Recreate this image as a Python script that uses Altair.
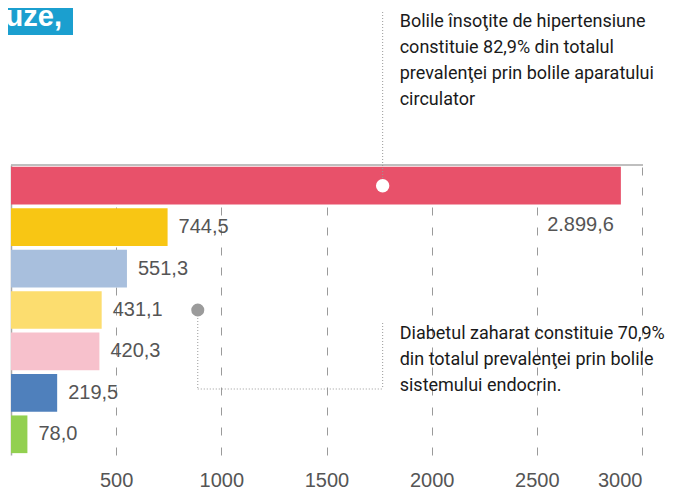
import altair as alt
import pandas as pd

# ---- data ----
categories = ["c1", "c2", "c3", "c4", "c5", "c6", "c7"]
values = [2899.6, 744.5, 551.3, 431.1, 420.3, 219.5, 78.0]
colors = ["#E8516A", "#F8C614", "#A8BFDD", "#FCDD6F", "#F7C1CC", "#4F80BC", "#92D050"]
tick_values = [500, 1000, 1500, 2000, 2500, 3000]

note1_lines = ["Bolile însoţite de  hipertensiune", "constituie 82,9% din totalul",
               "prevalenţei prin bolile aparatului", "circulator"]
note2_lines = ["Diabetul zaharat constituie 70,9%", "din totalul prevalenţei prin bolile",
               "sistemului endocrin."]
title_text = "uze,"

# annotation anchor values (data units)
marker1_x = 1767
marker2_x = 888
note_x = 1848


def ro_fmt(v):
    s = f"{v:,.1f}"
    return s.replace(",", "X").replace(".", ",").replace("X", ".")


labels = [ro_fmt(v) for v in values]

df = pd.DataFrame({"cat": categories, "value": values, "color": colors, "label": labels})

W, H = 631, 290
FONT = "Liberation Sans"
NOTE_FONT = "Roboto"

xscale = alt.Scale(domain=[0, 3000], nice=False, zero=True)
yscale = alt.Scale(domain=categories, paddingInner=0.09, paddingOuter=0.045)

base = alt.Chart(df)

bars = base.mark_bar().encode(
    x=alt.X("value:Q", scale=xscale,
            axis=alt.Axis(values=tick_values, format="d", grid=True, gridDash=[8, 12],
                          gridColor="#9a9a9a", gridWidth=1, domain=False, ticks=False,
                          labelFontSize=20, labelColor="#555555", labelFont=FONT,
                          labelPadding=15, labelBaseline="top", title=None)),
    y=alt.Y("cat:N", scale=yscale, sort=categories,
            axis=alt.Axis(labels=False, ticks=False, domain=True, domainColor="#aaaaaa",
                          domainWidth=1.5, title=None, grid=False)),
    color=alt.Color("color:N", scale=None),
)

value_labels = base.transform_filter(alt.datum.value < 2000).mark_text(
    align="left", baseline="middle", dx=11, fontSize=20, font=FONT, color="#555555"
).encode(
    x=alt.X("value:Q", scale=xscale),
    y=alt.Y("cat:N", scale=yscale, sort=categories),
    text="label:N",
)

big_label = base.transform_filter(alt.datum.value >= 2000).mark_text(
    align="right", baseline="middle", dx=-7, dy=39, fontSize=20, font=FONT, color="#555555"
).encode(
    x=alt.X("value:Q", scale=xscale),
    y=alt.Y("cat:N", scale=yscale, sort=categories),
    text="label:N",
)

top_border = alt.Chart(pd.DataFrame({"a": [0]})).mark_rule(color="#aaaaaa", strokeWidth=1.5).encode(
    x=alt.value(0), x2=alt.value(W + 1), y=alt.value(0)
)

# annotation 1
ann1_df = pd.DataFrame({"x": [marker1_x], "cat": [categories[0]]})
ann1_line = alt.Chart(ann1_df).mark_rule(color="#999999", strokeDash=[1, 2], strokeWidth=1).encode(
    x=alt.X("x:Q", scale=xscale), y=alt.value(-153), y2=alt.value(21)
)
ann1_dot = alt.Chart(ann1_df).mark_point(filled=True, color="white", opacity=1, size=180).encode(
    x=alt.X("x:Q", scale=xscale), y=alt.Y("cat:N", scale=yscale, sort=categories)
)
ann1_text = alt.Chart(pd.DataFrame({"x": [note_x], "t": [note1_lines]})).mark_text(
    align="left", baseline="alphabetic", fontSize=18, font=NOTE_FONT, color="#1a1a1a", lineHeight=26
).encode(x=alt.X("x:Q", scale=xscale), y=alt.value(-138), text="t")

# annotation 2
ann2_df = pd.DataFrame({"x": [marker2_x], "cat": [categories[3]]})
br_v1 = alt.Chart(ann2_df).mark_rule(color="#999999", strokeDash=[1, 2], strokeWidth=1).encode(
    x=alt.X("x:Q", scale=xscale), y=alt.value(147), y2=alt.value(224)
)
br_h = alt.Chart(pd.DataFrame({"x": [marker2_x], "x2": [marker1_x]})).mark_rule(
    color="#999999", strokeDash=[1, 2], strokeWidth=1
).encode(x=alt.X("x:Q", scale=xscale), x2="x2:Q", y=alt.value(224))
br_v2 = alt.Chart(pd.DataFrame({"x": [marker1_x]})).mark_rule(
    color="#999999", strokeDash=[1, 2], strokeWidth=1
).encode(x=alt.X("x:Q", scale=xscale), y=alt.value(158), y2=alt.value(224))
ann2_dot = alt.Chart(ann2_df).mark_point(filled=True, color="#9b9b9b", opacity=1, size=170).encode(
    x=alt.X("x:Q", scale=xscale), y=alt.Y("cat:N", scale=yscale, sort=categories)
)
ann2_text = alt.Chart(pd.DataFrame({"x": [note_x], "t": [note2_lines]})).mark_text(
    align="left", baseline="alphabetic", fontSize=18, font=NOTE_FONT, color="#1a1a1a", lineHeight=26
).encode(x=alt.X("x:Q", scale=xscale), y=alt.value(174), text="t")

# title box (cut-off heading)
title_box = alt.Chart(pd.DataFrame({"a": [0]})).mark_rect(color="#1B9FCF").encode(
    x=alt.value(-3), x2=alt.value(62), y=alt.value(-157), y2=alt.value(-130)
)
title_txt = alt.Chart(pd.DataFrame({"t": [title_text]})).mark_text(
    align="right", baseline="alphabetic", fontSize=29, fontWeight="bold", font=FONT, color="white"
).encode(x=alt.value(51), y=alt.value(-139), text="t")

chart = alt.layer(
    bars, top_border, value_labels, big_label,
    ann1_line, ann1_dot, ann1_text,
    br_v1, br_h, br_v2, ann2_dot, ann2_text,
    title_box, title_txt,
).properties(
    width=W, height=H,
    autosize=alt.AutoSizeParams(type="none"),
    padding={"left": 3, "top": 157, "right": 30, "bottom": 40},
).configure_view(stroke=None)

chart.save("out.html", embed_options={"renderer": "svg", "actions": False})
